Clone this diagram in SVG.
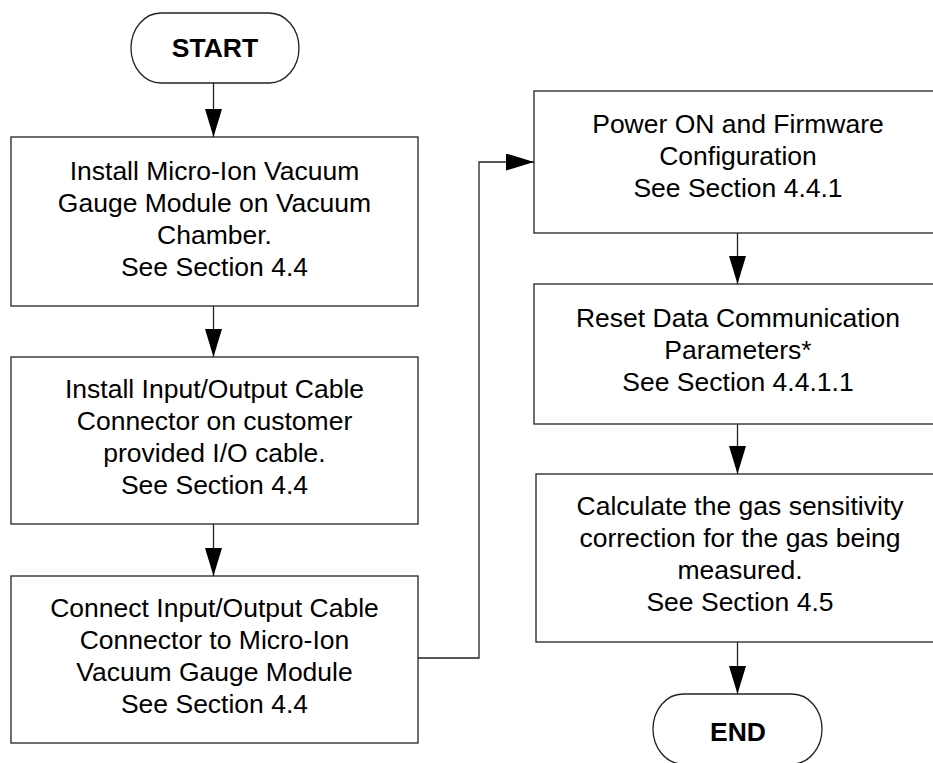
<svg xmlns="http://www.w3.org/2000/svg" width="933" height="763" viewBox="0 0 933 763">
<style>
.box{fill:#fff;stroke:#222;stroke-width:1.3}
.t{font-family:"Liberation Sans",Arial,sans-serif;font-size:26.5px;fill:#000;text-anchor:middle}
.b{font-weight:bold}
.c{fill:none;stroke:#222;stroke-width:1.3}
</style>
<defs>
<marker id="ah" markerUnits="userSpaceOnUse" markerWidth="28" markerHeight="17" refX="28" refY="8.5" orient="auto">
<path d="M0,0 L28,8.5 L0,17 z" fill="#000"/>
</marker>
</defs>
<g id="connectors">
<line class="c" x1="213.5" y1="83" x2="213.5" y2="137" marker-end="url(#ah)"/>
<line class="c" x1="213.5" y1="306" x2="213.5" y2="357" marker-end="url(#ah)"/>
<line class="c" x1="213.5" y1="524" x2="213.5" y2="576" marker-end="url(#ah)"/>
<polyline class="c" points="418,658 479,658 479,162 534,162" marker-end="url(#ah)"/>
<line class="c" x1="737.5" y1="233" x2="737.5" y2="284" marker-end="url(#ah)"/>
<line class="c" x1="737.5" y1="424" x2="737.5" y2="474" marker-end="url(#ah)"/>
<line class="c" x1="737.5" y1="642" x2="737.5" y2="694" marker-end="url(#ah)"/>
</g>
<g id="start">
<rect class="box" x="131" y="13" width="168" height="70" rx="30" ry="35"/>
<text class="t b" x="215" y="57">START</text>
</g>
<g id="install-module">
<rect class="box" x="11" y="137" width="407" height="169"/>
<text class="t" x="214.5" y="180">Install Micro-Ion Vacuum</text>
<text class="t" x="214.5" y="212">Gauge Module on Vacuum</text>
<text class="t" x="214.5" y="244">Chamber.</text>
<text class="t" x="214.5" y="276">See Section 4.4</text>
</g>
<g id="install-connector">
<rect class="box" x="11" y="357" width="407" height="167"/>
<text class="t" x="214.5" y="398">Install Input/Output Cable</text>
<text class="t" x="214.5" y="430">Connector on customer</text>
<text class="t" x="214.5" y="462">provided I/O cable.</text>
<text class="t" x="214.5" y="494">See Section 4.4</text>
</g>
<g id="connect-cable">
<rect class="box" x="11" y="576" width="407" height="167"/>
<text class="t" x="214.5" y="617">Connect Input/Output Cable</text>
<text class="t" x="214.5" y="649">Connector to Micro-Ion</text>
<text class="t" x="214.5" y="681">Vacuum Gauge Module</text>
<text class="t" x="214.5" y="713">See Section 4.4</text>
</g>
<g id="power-on">
<rect class="box" x="534" y="91" width="408" height="142"/>
<text class="t" x="738" y="133">Power ON and Firmware</text>
<text class="t" x="738" y="165">Configuration</text>
<text class="t" x="738" y="197">See Section 4.4.1</text>
</g>
<g id="reset-params">
<rect class="box" x="534" y="284" width="408" height="140"/>
<text class="t" x="738" y="327">Reset Data Communication</text>
<text class="t" x="738" y="359">Parameters*</text>
<text class="t" x="738" y="391">See Section 4.4.1.1</text>
</g>
<g id="calculate">
<rect class="box" x="536" y="474" width="406" height="168"/>
<text class="t" x="740" y="515">Calculate the gas sensitivity</text>
<text class="t" x="740" y="547">correction for the gas being</text>
<text class="t" x="740" y="579">measured.</text>
<text class="t" x="740" y="611">See Section 4.5</text>
</g>
<g id="end">
<rect class="box" x="653" y="694" width="169" height="70" rx="30" ry="35"/>
<text class="t b" x="738" y="741">END</text>
</g>
</svg>
